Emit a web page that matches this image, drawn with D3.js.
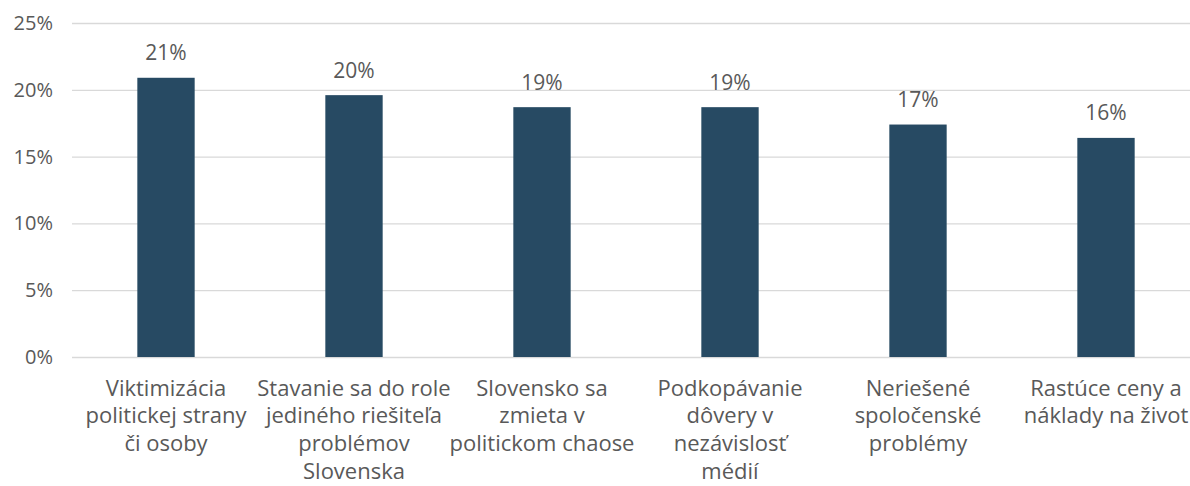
<!DOCTYPE html>
<html>
<head>
<meta charset="utf-8">
<script src="https://cdn.jsdelivr.net/npm/d3@7"></script>
<style>
  html, body { margin: 0; padding: 0; background: #fff; }
  svg { display: block; }
  text { font-family: "Open Sans", Lato, sans-serif; fill: #595959; }
</style>
</head>
<body>
<svg id="chart" width="1190" height="486"></svg>
<script>
const categories = [
  "Viktimizácia\npolitickej strany\nči osoby",
  "Stavanie sa do role\njediného riešiteľa\nproblémov\nSlovenska",
  "Slovensko sa\nzmieta v\npolitickom chaose",
  "Podkopávanie\ndôvery v\nnezávislosť\nmédií",
  "Neriešené\nspoločenské\nproblémy",
  "Rastúce ceny a\nnáklady na život"
];
const values = [20.9, 19.6, 18.7, 18.7, 17.4, 16.4];
const valueLabels = ["21%", "20%", "19%", "19%", "17%", "16%"];
const yTicks = [0, 5, 10, 15, 20, 25];

const svg = d3.select("#chart");
const mLeft = 72, mRight = 1200, mTop = 23, mBottom = 357;
const font = "'Open Sans', Lato, sans-serif";

const x = d3.scaleBand().domain(categories).range([mLeft, mRight])
  .paddingInner(0.695).paddingOuter(0.3475);
const y = d3.scaleLinear().domain([0, 25]).range([mBottom, mTop]);

// gridlines
svg.append("g").selectAll("line").data(yTicks).join("line")
  .attr("x1", mLeft).attr("x2", mRight)
  .attr("y1", d => y(d) + 0.5).attr("y2", d => y(d) + 0.5)
  .attr("stroke", "#d9d9d9").attr("stroke-width", 1.3);

// y axis labels
const yAxis = d3.axisLeft(y).tickValues(yTicks).tickFormat(d => d + "%").tickSize(0).tickPadding(0);
const yg = svg.append("g").attr("transform", `translate(53,0)`).call(yAxis);
yg.select(".domain").remove();
yg.selectAll("text").attr("font-size", 20).style("font-family", font).attr("fill", "#595959").attr("dy", "0.32em");

// bars
svg.append("g").selectAll("rect").data(values).join("rect")
  .attr("x", (d, i) => x(categories[i]))
  .attr("width", x.bandwidth())
  .attr("y", d => y(d))
  .attr("height", d => y(0) - y(d))
  .attr("fill", "#274a63");

// value labels
svg.append("g").selectAll("text").data(values).join("text")
  .attr("x", (d, i) => x(categories[i]) + x.bandwidth() / 2)
  .attr("y", d => y(d) - 17.5)
  .attr("text-anchor", "middle")
  .attr("font-size", 21)
  .text((d, i) => valueLabels[i]);

// category labels
const cg = svg.append("g").selectAll("text").data(categories).join("text")
  .attr("x", d => x(d) + x.bandwidth() / 2)
  .attr("y", 395.5)
  .attr("text-anchor", "middle")
  .attr("font-size", 22);
cg.each(function(d) {
  const t = d3.select(this);
  const cx = x(d) + x.bandwidth() / 2;
  d.split("\n").forEach((line, i) => {
    t.append("tspan").attr("x", cx).attr("dy", i === 0 ? 0 : 27.8).text(line);
  });
});
</script>
</body>
</html>
